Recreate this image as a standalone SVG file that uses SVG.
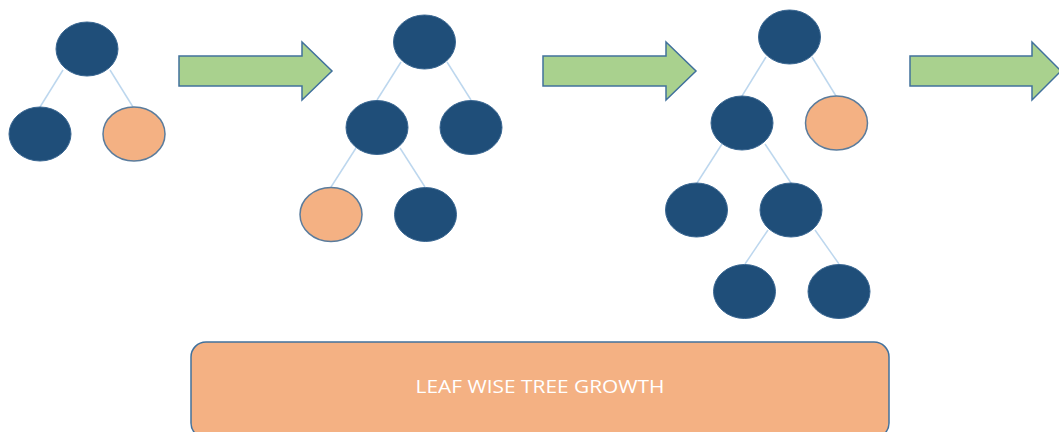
<svg xmlns="http://www.w3.org/2000/svg" width="1059" height="432" viewBox="0 0 1059 432">
  <style>
    .dark { fill: #1F4E79; stroke: #3A6792; stroke-width: 1; }
    .leaf { fill: #F4B183; stroke: #5B7C9C; stroke-width: 1.5; }
    .edge { stroke: #BDD7EE; stroke-width: 1.5; fill: none; }
    .step { fill: #A9D18E; stroke: #41719C; stroke-width: 1.5; }
    .banner { fill: #F4B183; stroke: #41719C; stroke-width: 1.5; }
    .label { font-family: "Open Sans", "Liberation Sans", sans-serif; font-size: 18px; fill: #FFFFFF; }
  </style>

  <!-- tree edges -->
  <g id="connectors">
    <line class="edge" x1="63" y1="70" x2="40" y2="107"/>
    <line class="edge" x1="110" y1="70" x2="133" y2="107"/>

    <line class="edge" x1="401" y1="62" x2="377" y2="100"/>
    <line class="edge" x1="447" y1="62" x2="471" y2="100"/>
    <line class="edge" x1="356" y1="148" x2="331" y2="187"/>
    <line class="edge" x1="400" y1="148" x2="425" y2="187"/>

    <line class="edge" x1="766" y1="57" x2="742" y2="96"/>
    <line class="edge" x1="812" y1="57" x2="836" y2="96"/>
    <line class="edge" x1="722" y1="144" x2="697" y2="183"/>
    <line class="edge" x1="765" y1="144" x2="791" y2="183"/>
    <line class="edge" x1="768" y1="230" x2="745" y2="264"/>
    <line class="edge" x1="815" y1="230" x2="839" y2="264"/>
  </g>

  <!-- tree 1 -->
  <g id="t1-root"><ellipse class="dark" cx="87" cy="49" rx="31" ry="27"/></g>
  <g id="t1-left"><ellipse class="dark" cx="40" cy="134" rx="31" ry="27"/></g>
  <g id="t1-right"><ellipse class="leaf" cx="134" cy="134" rx="31" ry="27"/></g>

  <!-- tree 2 -->
  <g id="t2-root"><ellipse class="dark" cx="424.5" cy="42" rx="31" ry="27"/></g>
  <g id="t2-left"><ellipse class="dark" cx="377" cy="127.5" rx="31" ry="27"/></g>
  <g id="t2-right"><ellipse class="dark" cx="471" cy="127.5" rx="31" ry="27"/></g>
  <g id="t2-left-left"><ellipse class="leaf" cx="331" cy="214.5" rx="31" ry="27"/></g>
  <g id="t2-left-right"><ellipse class="dark" cx="425.5" cy="214.5" rx="31" ry="27"/></g>

  <!-- tree 3 -->
  <g id="t3-root"><ellipse class="dark" cx="789.5" cy="37" rx="31" ry="27"/></g>
  <g id="t3-left"><ellipse class="dark" cx="742" cy="123" rx="31" ry="27"/></g>
  <g id="t3-right"><ellipse class="leaf" cx="836.5" cy="123" rx="31" ry="27"/></g>
  <g id="t3-left-left"><ellipse class="dark" cx="696.5" cy="210" rx="31" ry="27"/></g>
  <g id="t3-left-right"><ellipse class="dark" cx="791" cy="210" rx="31" ry="27"/></g>
  <g id="t3-lr-left"><ellipse class="dark" cx="744.5" cy="291.5" rx="31" ry="27"/></g>
  <g id="t3-lr-right"><ellipse class="dark" cx="839" cy="291.5" rx="31" ry="27"/></g>

  <!-- growth-step arrows -->
  <g id="step-1"><polygon class="step" points="179,56 302,56 302,42 332,71 302,100 302,86 179,86"/></g>
  <g id="step-2"><polygon class="step" points="543,56 666,56 666,42 696,71 666,100 666,86 543,86"/></g>
  <g id="step-3"><polygon class="step" points="910,56 1032,56 1032,42 1061,71 1032,100 1032,86 910,86"/></g>

  <!-- caption banner -->
  <g id="caption">
    <rect class="banner" x="191" y="342" width="698" height="96" rx="15" ry="15"/>
    <text class="label" x="540" y="393" text-anchor="middle" textLength="249" lengthAdjust="spacingAndGlyphs">LEAF WISE TREE GROWTH</text>
  </g>
</svg>
